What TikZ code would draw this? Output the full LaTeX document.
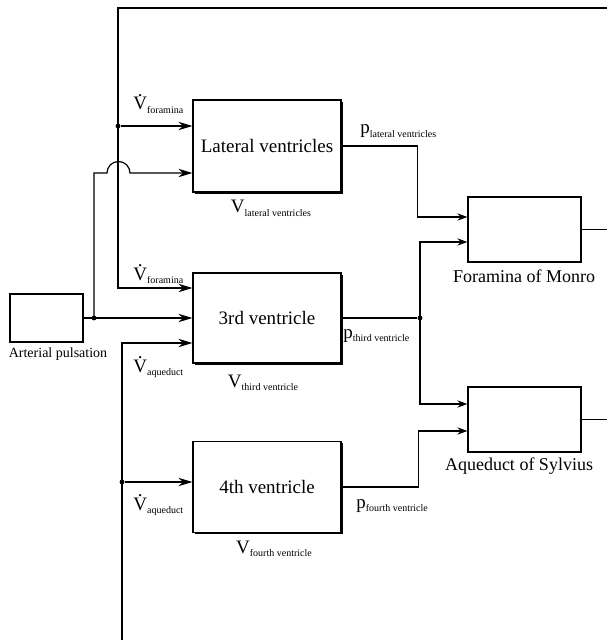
\documentclass[tikz,border=0pt]{standalone}
\usepackage{fontspec}
\setmainfont{Liberation Serif}
\usetikzlibrary{calc}
\usetikzlibrary{arrows.meta}
\usetikzlibrary{shadows}
\tikzset{>={Stealth[length=7pt,width=4.2pt]}}
\tikzstyle{block}=[draw,fill=white,line width=0.6pt,inner sep=0pt,minimum width=74pt,minimum height=45.5pt,font=\fontsize{9.5}{11}\selectfont]
\tikzstyle{ventricle}=[block,drop shadow={shadow xshift=0.8pt,shadow yshift=-0.8pt,opacity=1,fill=black}]
\tikzstyle{flow}=[->,line width=0.6pt]
\tikzstyle{small flow}=[-{Stealth[length=5pt,width=3.6pt]},line width=0.6pt]
\tikzstyle{signal}=[line width=0.6pt]
\tikzstyle{junction}=[circle,fill,inner sep=0pt,minimum size=2.4pt]
\tikzstyle{quantity}=[inner sep=0pt,font=\fontsize{9.5}{11}\selectfont]
\tikzstyle{caption}=[inner sep=0pt,font=\fontsize{9}{11}\selectfont]
\newcommand{\lsub}[1]{\raisebox{-0.45ex}{\fontsize{5}{6}\selectfont #1}}
\newcommand{\Vdot}{\makebox[0pt][l]{\hspace{0.23em}\raisebox{0.7em}{.}}V}

\begin{document}
\begin{tikzpicture}[x=0.5pt,y=-0.5pt]
  \useasboundingbox (0,0) rectangle (607,640);

  % BLOCKS
  \node[ventricle,minimum height=46pt] (lat) at (267,146) {Lateral ventricles};
  \node[ventricle,minimum height=45pt] (third) at (267,318) {3rd ventricle};
  \node[ventricle] (fourth) at (267,487) {4th ventricle};
  \node[block,minimum width=36.5pt,minimum height=24pt] (art) at (46.5,318) {};
  \node[block,minimum width=56.5pt,minimum height=32.5pt] (monro) at (524.5,229.5) {};
  \node[block,minimum width=56.5pt,minimum height=32.5pt] (sylv) at (524.5,419.5) {};

  % BRANCH POINTS
  \coordinate (top) at (607,8);
  \coordinate (topleft) at (118,8);
  \coordinate (fordown) at (118,288);
  \coordinate (artup) at (94,173);
  \coordinate (bottom) at (122,640);
  \coordinate (aqup) at (122,343);
  \node[junction] (jfor) at (118,126) {};
  \node[junction] (jart) at (94,318) {};
  \node[junction] (jaq) at (122,482) {};
  \node[junction] (jthird) at (420,318) {};
  \coordinate (mup) at ($(monro.west)+(0,-12.5)$);
  \coordinate (mlo) at ($(monro.west)+(0,12.5)$);
  \coordinate (sylvup) at ($(sylv.west)+(0,-15.5)$);
  \coordinate (sylvlo) at ($(sylv.west)+(0,11.5)$);

  % FLOW THROUGH FORAMINA
  \draw[flow] (top) -- (topleft) -- (fordown) -- (third.west |- fordown);
  \draw[flow] (jfor) -- (jfor -| lat.west);

  % ARTERIAL PULSATION
  \draw[flow] (art.east) -- (third.west);
  \draw[flow] (jart.center) -- (artup) -- ++(13,0)
    arc[start angle=180,end angle=360,radius=11.5] -- (lat.west |- artup);

  % FLOW THROUGH AQUEDUCT
  \draw[flow] (bottom) -- (aqup) -- (third.west |- aqup);
  \draw[flow] (jaq) -- (jaq -| fourth.west);

  % PRESSURES
  \draw[small flow] (lat.east) -| ($(mup)+(-50,0)$) -- (mup);
  \draw[signal] (third.east) -- (jthird);
  \draw[small flow] (jthird.center) |- (mlo);
  \draw[small flow] (jthird.center) |- (sylvup);
  \draw[small flow] (fourth.east) -| ($(sylvlo)+(-49,0)$) -- (sylvlo);
  \draw[signal] (monro.east) -- (monro.east -| top);
  \draw[signal] (sylv.east) -- (sylv.east -| top);

  % LABELS
  \node[quantity,anchor=base west] (qfor1) at (133,110) {\Vdot\lsub{foramina}};
  \node[quantity,anchor=base west] (qfor2) at (133,280) {\Vdot\lsub{foramina}};
  \node[quantity,anchor=base west] (qaq1) at (133,372) {\Vdot\lsub{aqueduct}};
  \node[quantity,anchor=base west] (qaq2) at (133,510) {\Vdot\lsub{aqueduct}};
  \node[quantity,anchor=base west] (plat) at (360,134) {p\lsub{lateral ventricles}};
  \node[quantity,anchor=base west] (pthird) at (343,338) {p\lsub{third ventricle}};
  \node[quantity,anchor=base west] (pfourth) at (356,508) {p\lsub{fourth ventricle}};
  \node[quantity,anchor=base] (vlat) at (271,213) {V\lsub{lateral ventricles}};
  \node[quantity,anchor=base] (vthird) at (263,387) {V\lsub{third ventricle}};
  \node[quantity,anchor=base] (vfourth) at (274,553) {V\lsub{fourth ventricle}};
  \node[caption,anchor=base] (cmonro) at (524,283) {Foramina of Monro};
  \node[caption,anchor=base] (csylv) at (519,470) {Aqueduct of Sylvius};
  \node[caption,anchor=base,font=\fontsize{7}{8}\selectfont] (cart) at (58,357) {Arterial pulsation};

\end{tikzpicture}
\end{document}
